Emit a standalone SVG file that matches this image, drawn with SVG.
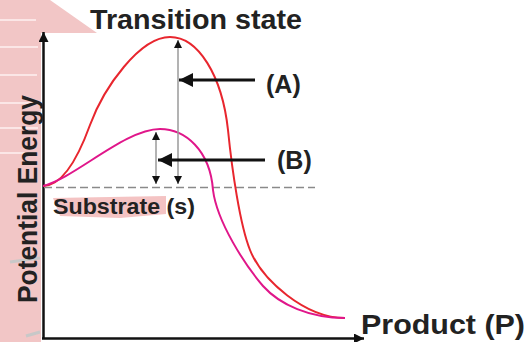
<svg xmlns="http://www.w3.org/2000/svg" width="528" height="342" viewBox="0 0 528 342">
<style>
.lbl{font-family:"Liberation Sans",Arial,sans-serif;font-weight:bold;fill:#222}
.grey{stroke:#9a9a9a;stroke-width:1.5;fill:none}
.ax{stroke:#111;stroke-width:2.5;fill:none}
.harr{stroke:#111;stroke-width:3;fill:none}
</style>
<defs>
<marker id="tri" viewBox="0 0 10 10" refX="10" refY="5" markerWidth="8" markerHeight="8" markerUnits="userSpaceOnUse" orient="auto"><path d="M0,0 L10,5 L0,10 z" fill="#111"/></marker>
<marker id="tri2" viewBox="0 0 10 10" refX="10" refY="5" markerWidth="10" markerHeight="10" markerUnits="userSpaceOnUse" orient="auto"><path d="M0,0 L10,5 L0,10 z" fill="#111"/></marker>
<marker id="big" viewBox="0 0 10 10" refX="10" refY="5" markerWidth="14" markerHeight="14" markerUnits="userSpaceOnUse" orient="auto"><path d="M0,0 L10,5 L0,10 z" fill="#111"/></marker>
</defs>
<rect width="528" height="342" fill="#fff"/>
<g id="background">
<path d="M0,0 L50,0 L97,33 L41,33 L41,342 L0,342 Z" fill="#f2c6c6"/>
<g stroke="#fbe6e6" stroke-width="2">
<line x1="0" y1="20" x2="36" y2="20"/><line x1="0" y1="47" x2="38" y2="47"/><line x1="0" y1="75" x2="37" y2="75"/><line x1="0" y1="103" x2="36" y2="103"/><line x1="0" y1="128" x2="38" y2="128"/><line x1="0" y1="153" x2="37" y2="153"/>
</g>
<path d="M10,262 L40,258" stroke="#c8c8c8" stroke-width="3"/>
<path d="M26,336 L40,332" stroke="#c8c8c8" stroke-width="3"/>
<path d="M53,198 L166,196 L166,214 L120,218 L60,216 Z" fill="#f2b8b8" opacity="0.85"/>
</g>
<g id="axes">
<line class="ax" x1="43.5" y1="339" x2="43.5" y2="32" marker-end="url(#tri2)"/>
<line class="ax" x1="42" y1="338.5" x2="364" y2="338.5" marker-end="url(#tri2)"/>
<line x1="44" y1="187.5" x2="315" y2="187.5" stroke="#8a8a8a" stroke-width="1.5" stroke-dasharray="8,4"/>
</g>
<g id="curves" fill="none" stroke-width="2">
<path id="uncatalysed" stroke="#e8262e" d="M43,186 C62,186 78,158 90,125 C104,87 140,37 170,37 C198,37 222,75 228,130 C232,170 240,225 250,250 C262,280 305,318 345,318"/>
<path id="catalysed" stroke="#e0168a" d="M43,186 C75,178 125,129 160,129 C185,129 210,150 213,190 C217,222 245,265 263,286 C280,305 310,318 345,318"/>
</g>
<g id="connectors">
<line class="grey" x1="178" y1="110" x2="178" y2="40" marker-end="url(#tri)"/>
<line class="grey" x1="178" y1="110" x2="178" y2="184" marker-end="url(#tri)"/>
<line class="grey" x1="156" y1="160" x2="156" y2="132" marker-end="url(#tri)"/>
<line class="grey" x1="156" y1="160" x2="156" y2="184" marker-end="url(#tri)"/>
<line class="harr" x1="255" y1="80" x2="179" y2="80" marker-end="url(#big)"/>
<line class="harr" x1="265" y1="160" x2="158" y2="160" marker-end="url(#big)"/>
</g>
<g id="labels">
<text class="lbl" x="90" y="29" font-size="28" textLength="212" lengthAdjust="spacingAndGlyphs">Transition state</text>
<text class="lbl" x="266" y="93" font-size="25">(A)</text>
<text class="lbl" x="277" y="169" font-size="25">(B)</text>
<text class="lbl" x="53" y="214" font-size="22" textLength="142" lengthAdjust="spacingAndGlyphs">Substrate (s)</text>
<text class="lbl" x="361" y="334" font-size="28" textLength="164" lengthAdjust="spacingAndGlyphs">Product (P)</text>
<text class="lbl" font-size="27" transform="translate(37,303) rotate(-90)" textLength="208" lengthAdjust="spacingAndGlyphs">Potential Energy</text>
</g>
</svg>
